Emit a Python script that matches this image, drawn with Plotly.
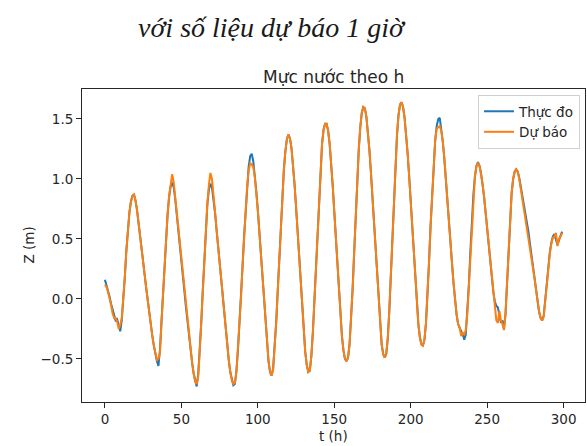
import plotly.graph_objects as go

hours = list(range(300))

thuc_do = [
    0.16, 0.12, 0.07, 0.02, -0.04, -0.09, -0.15, -0.18, -0.17, -0.23,
    -0.27, -0.18, -0.02, 0.18, 0.40, 0.58, 0.72, 0.81, 0.86, 0.87,
    0.82, 0.74, 0.64, 0.53, 0.42, 0.31, 0.20, 0.09, -0.02, -0.12,
    -0.22, -0.31, -0.39, -0.46, -0.52, -0.56, -0.42, -0.19, 0.06, 0.30,
    0.52, 0.71, 0.85, 0.94, 0.97, 0.93, 0.83, 0.71, 0.58, 0.45,
    0.32, 0.19, 0.06, -0.07, -0.20, -0.32, -0.43, -0.53, -0.62, -0.69,
    -0.73, -0.63, -0.44, -0.20, 0.07, 0.34, 0.59, 0.79, 0.91, 0.96,
    0.93, 0.84, 0.72, 0.58, 0.44, 0.30, 0.16, 0.02, -0.12, -0.26,
    -0.39, -0.51, -0.61, -0.68, -0.72, -0.71, -0.60, -0.43, -0.23, 0.01,
    0.27, 0.52, 0.75, 0.95, 1.10, 1.19, 1.21, 1.15, 1.04, 0.90,
    0.74, 0.56, 0.37, 0.17, -0.03, -0.22, -0.39, -0.52, -0.61, -0.64,
    -0.58, -0.42, -0.20, 0.06, 0.34, 0.61, 0.86, 1.07, 1.23, 1.33,
    1.37, 1.34, 1.26, 1.13, 0.96, 0.77, 0.56, 0.34, 0.12, -0.09,
    -0.28, -0.44, -0.55, -0.61, -0.60, -0.48, -0.28, -0.02, 0.27, 0.57,
    0.85, 1.10, 1.29, 1.41, 1.46, 1.46, 1.40, 1.29, 1.13, 0.94,
    0.73, 0.50, 0.27, 0.05, -0.15, -0.31, -0.43, -0.50, -0.52, -0.49,
    -0.38, -0.18, 0.08, 0.38, 0.69, 0.98, 1.24, 1.43, 1.55, 1.60,
    1.59, 1.52, 1.40, 1.24, 1.05, 0.84, 0.61, 0.38, 0.15, -0.06,
    -0.24, -0.38, -0.46, -0.49, -0.46, -0.33, -0.10, 0.19, 0.50, 0.82,
    1.11, 1.36, 1.53, 1.62, 1.64, 1.60, 1.51, 1.38, 1.21, 1.02,
    0.81, 0.59, 0.37, 0.15, -0.05, -0.21, -0.32, -0.38, -0.39, -0.34,
    -0.20, 0.03, 0.31, 0.61, 0.89, 1.14, 1.32, 1.44, 1.50, 1.51,
    1.42, 1.31, 1.17, 1.01, 0.84, 0.66, 0.48, 0.30, 0.13, -0.02,
    -0.13, -0.21, -0.25, -0.27, -0.29, -0.34, -0.30, -0.13, 0.11, 0.39,
    0.65, 0.87, 1.02, 1.11, 1.14, 1.11, 1.05, 0.96, 0.85, 0.72,
    0.58, 0.44, 0.30, 0.17, 0.06, -0.02, -0.06, -0.07, -0.13, -0.20,
    -0.18, -0.25, -0.13, 0.13, 0.42, 0.68, 0.88, 1.00, 1.06, 1.08,
    1.06, 1.01, 0.94, 0.87, 0.80, 0.72, 0.64, 0.56, 0.46, 0.37,
    0.27, 0.17, 0.07, -0.03, -0.11, -0.16, -0.18, -0.14, -0.01, 0.14,
    0.28, 0.39, 0.47, 0.52, 0.54, 0.50, 0.45, 0.49, 0.53, 0.56,
]

du_bao = [
    0.12, 0.10, 0.06, 0.01, -0.05, -0.12, -0.16, -0.16, -0.19, -0.25,
    -0.22, -0.16, -0.02, 0.18, 0.40, 0.58, 0.72, 0.81, 0.86, 0.87,
    0.82, 0.74, 0.64, 0.53, 0.42, 0.31, 0.20, 0.09, -0.02, -0.12,
    -0.22, -0.31, -0.39, -0.46, -0.51, -0.50, -0.45, -0.19, 0.06, 0.30,
    0.52, 0.71, 0.86, 0.97, 1.04, 0.97, 0.84, 0.71, 0.58, 0.45,
    0.32, 0.19, 0.06, -0.07, -0.20, -0.32, -0.43, -0.53, -0.62, -0.69,
    -0.71, -0.65, -0.44, -0.20, 0.07, 0.34, 0.59, 0.80, 0.95, 1.05,
    1.00, 0.88, 0.73, 0.58, 0.44, 0.30, 0.16, 0.02, -0.12, -0.26,
    -0.39, -0.51, -0.61, -0.68, -0.71, -0.70, -0.61, -0.43, -0.23, 0.01,
    0.27, 0.52, 0.75, 0.94, 1.07, 1.13, 1.12, 1.10, 1.02, 0.90,
    0.74, 0.56, 0.37, 0.17, -0.03, -0.22, -0.39, -0.52, -0.61, -0.64,
    -0.59, -0.42, -0.20, 0.06, 0.34, 0.61, 0.86, 1.07, 1.23, 1.33,
    1.37, 1.34, 1.26, 1.13, 0.96, 0.77, 0.56, 0.34, 0.12, -0.09,
    -0.28, -0.44, -0.55, -0.61, -0.60, -0.48, -0.28, -0.02, 0.27, 0.57,
    0.85, 1.10, 1.29, 1.41, 1.46, 1.46, 1.40, 1.29, 1.13, 0.94,
    0.73, 0.50, 0.27, 0.05, -0.15, -0.31, -0.43, -0.50, -0.52, -0.49,
    -0.38, -0.18, 0.08, 0.38, 0.69, 0.98, 1.24, 1.43, 1.55, 1.60,
    1.59, 1.52, 1.40, 1.24, 1.05, 0.84, 0.61, 0.38, 0.15, -0.06,
    -0.24, -0.38, -0.46, -0.49, -0.46, -0.33, -0.10, 0.19, 0.50, 0.82,
    1.11, 1.36, 1.53, 1.62, 1.64, 1.60, 1.51, 1.38, 1.21, 1.02,
    0.81, 0.59, 0.37, 0.15, -0.05, -0.21, -0.32, -0.38, -0.39, -0.34,
    -0.20, 0.03, 0.31, 0.61, 0.89, 1.14, 1.32, 1.42, 1.43, 1.44,
    1.40, 1.31, 1.17, 1.01, 0.84, 0.66, 0.48, 0.30, 0.13, -0.02,
    -0.13, -0.21, -0.24, -0.31, -0.28, -0.30, -0.26, -0.13, 0.11, 0.39,
    0.65, 0.87, 1.02, 1.11, 1.13, 1.11, 1.05, 0.96, 0.85, 0.72,
    0.58, 0.44, 0.30, 0.17, 0.06, -0.05, -0.18, -0.20, -0.10, -0.18,
    -0.21, -0.26, -0.12, 0.13, 0.42, 0.68, 0.88, 1.00, 1.06, 1.08,
    1.06, 1.00, 0.92, 0.84, 0.75, 0.67, 0.58, 0.50, 0.41, 0.34,
    0.26, 0.17, 0.07, -0.03, -0.11, -0.16, -0.18, -0.15, -0.02, 0.13,
    0.27, 0.38, 0.46, 0.51, 0.52, 0.55, 0.44, 0.50, 0.52, 0.55,
]

x_ticks = [0, 50, 100, 150, 200, 250, 300]
y_ticks = [-0.5, 0.0, 0.5, 1.0, 1.5]

INK = "#262626"
FONT = "DejaVu Sans"

# plot-area geometry in pixels (figure is 587 x 446)
L, R, T, B = 82, 585, 89, 402
W, H = R - L, B - T

def px(x):
    return (x - L) / W

def py(y):
    return (B - y) / H

fig = go.Figure()
fig.add_trace(go.Scatter(x=hours, y=thuc_do, mode="lines", name="Thực đo",
                         line=dict(color="#1f77b4", width=2)))
fig.add_trace(go.Scatter(x=hours, y=du_bao, mode="lines", name="Dự báo",
                         line=dict(color="#ff7f0e", width=2)))

axis_common = dict(showline=True, linecolor=INK, linewidth=1, mirror=True,
                   ticks="outside", ticklen=5, tickcolor=INK, showgrid=False,
                   zeroline=False, automargin=False,
                   tickfont=dict(family=FONT, size=13.5, color=INK))

fig.update_xaxes(range=[-15, 314], tickvals=x_ticks, **axis_common)
fig.update_yaxes(range=[-0.86, 1.75], tickvals=y_ticks, tickformat=".1f", **axis_common)

fig.update_layout(
    width=587, height=446,
    margin=dict(l=L, r=587 - R, t=T, b=446 - B, autoexpand=False),
    paper_bgcolor="white", plot_bgcolor="white",
    showlegend=True,
    legend=dict(x=px(580), xanchor="right", y=py(95), yanchor="top",
                bgcolor="rgba(255,255,255,0.8)", bordercolor="#d0d0d0", borderwidth=1,
                font=dict(family=FONT, size=13.5, color=INK), tracegroupgap=0,
                itemwidth=30),
    annotations=[
        dict(text="<i>với số liệu dự báo 1 giờ</i>", xref="paper", yref="paper",
             x=px(272), y=py(27), xanchor="center", yanchor="middle",
             showarrow=False,
             font=dict(family="Liberation Serif", size=28, color="#1a1a1a")),
        dict(text="Mực nước theo h", xref="paper", yref="paper",
             x=0.5, y=py(77), xanchor="center", yanchor="middle",
             showarrow=False, font=dict(family=FONT, size=17, color=INK)),
        dict(text="t (h)", xref="paper", yref="paper",
             x=0.5, y=py(436), xanchor="center", yanchor="middle",
             showarrow=False, font=dict(family=FONT, size=13.5, color=INK)),
        dict(text="Z (m)", xref="paper", yref="paper", textangle=-90,
             x=px(28), y=0.5, xanchor="center", yanchor="middle",
             showarrow=False, font=dict(family=FONT, size=13.5, color=INK)),
    ],
)

fig.write_html("out.html", config={"displayModeBar": False},
               post_script="document.body.style.margin='0';")
